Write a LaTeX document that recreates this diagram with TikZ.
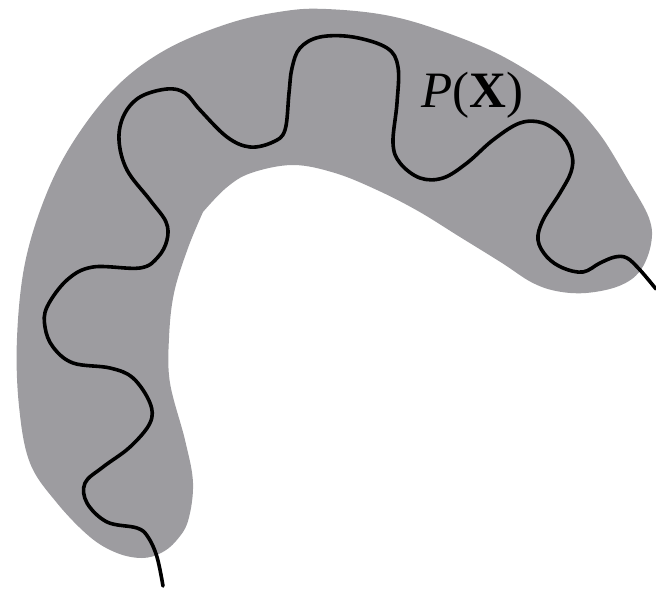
\documentclass[tikz,border=0pt]{standalone}
\usepackage{fontspec}
\setmainfont{Liberation Serif}
\definecolor{blobgray}{RGB}{157,156,160}

\begin{document}
\begin{tikzpicture}[x=1pt,y=-1pt,
blob/.style={fill=blobgray},
walk/.style={line width=3.6pt, black, line cap=round, line join=round},
]
\useasboundingbox (0,0) rectangle (656,589);
% shaded region
\fill[blob] (203,212) -- plot[smooth, tension=0.6] coordinates {
(203,212) (188,248) (174,293) (169,338) (170,383) (185,440) (193,483)
(188,521) (176,541) (161,553) (142,558) (117,553) (90,537) (57,503)
(30,463) (19,406) (17,338) (25,263) (46,195) (75,139) (117,86)
(167,49) (230,23) (285,11) (326,9) (385,15) (439,30) (502,56)
(561,94) (598,132) (628,180) (649,218) (651,244) (640,271) (619,286)
(586,293) (556,291) (531,282) (502,263) (460,237) (418,211) (377,190)
(335,173) (293,165) (251,173) (226,188) (203,212)} -- cycle;
% wiggly path
\draw[walk] plot[smooth, tension=0.6] coordinates {
(163,586) (157,557) (148,537) (137,528) (107,522) (87,503) (85,483)
(103,467) (130,447) (150,423) (150,403) (133,378) (110,368) (73,363)
(53,347) (45,327) (47,307) (67,280) (93,267) (140,268) (158,257)
(167,240) (166,222) (150,200) (127,170) (119,140) (124,115) (140,97)
(167,89) (185,93) (200,110) (227,137) (250,147) (273,142) (285,130)
(289,93) (292,68) (300,48) (320,37) (353,37) (387,48) (398,67)
(397,103) (393,143) (400,163) (420,178) (443,178) (467,163) (493,140)
(520,123) (543,123) (563,137) (572,155) (571,172) (560,193) (543,220)
(538,240) (547,257) (563,268) (583,272) (600,263) (615,257) (627,258)
(640,270) (656,289)};
\node[anchor=base west, inner sep=0pt, font=\fontsize{51}{53}\selectfont] (label) at (421,107)
{\textit{P}(\textbf{X})};
\end{tikzpicture}
\end{document}
